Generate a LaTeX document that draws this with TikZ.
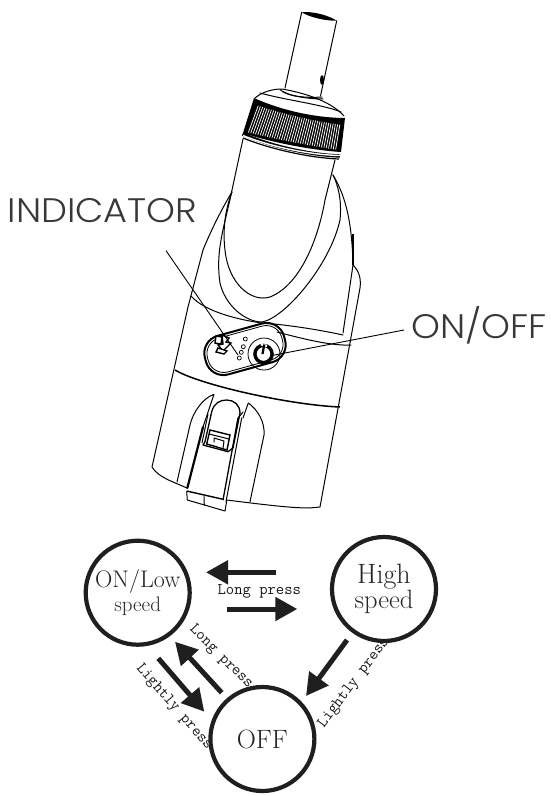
\documentclass[tikz,border=0pt]{standalone}
\usepackage{fontspec}
\newfontfamily\lab[UprightFont=* Light,FakeStretch=1.08]{Poppins}
\usetikzlibrary{arrows.meta}
\tikzset{
  dev/.style={line width=1pt,black,line join=round,line cap=round},
  devthick/.style={line width=2.2pt,black,line cap=round},
  state/.style={circle,draw=black!88,line width=4.2pt,fill=white,minimum size=104pt,inner sep=0pt,align=center,text=black!85},
  blockarrow/.style={draw=black!88,line width=5pt,-{Triangle[length=22pt,width=23pt]}},
  presslabel/.style={font=\ttfamily\fontsize{16.2}{17}\selectfont,text=black!90,inner sep=0pt},
  callout/.style={font=\lab\fontsize{34}{36}\selectfont,text=black!78,inner sep=0pt,anchor=base west},
  leader/.style={line width=0.9pt,black},
  leddot/.style={line width=0.7pt,black}
}
\begin{document}
\begin{tikzpicture}[x=1pt,y=-1pt]
\useasboundingbox (0,0) rectangle (551,796);
% tube
\draw[dev] (301.7,12.3) -- (285,88);
\draw[dev] (336.7,20.7) -- (320.5,96);
\fill[black] (301.7,12.3) .. controls (312,11) and (328,15) .. (336.7,20.7) .. controls (325,21) and (309,17) .. (301.7,12.3);
\fill[black] (322,80) ellipse (2pt and 5pt);
% cap dome
\draw[dev] (255,98) .. controls (262,92) and (272,89) .. (282,89) .. controls (300,92) and (330,100) .. (344,116);
\draw[dev] (280,89.5) .. controls (287,97) and (308,98) .. (322,97);
\draw[dev] (283,91.5) .. controls (290,96) and (308,99) .. (323,99);
\draw[dev] (260,93) .. controls (285,100) and (325,105) .. (341,112);
% knurl
\fill[black] (254,98) .. controls (285,112) and (320,118) .. (345,118) -- (341,152) .. controls (310,150) and (270,142) .. (243,133) -- cycle;
\foreach \i in {1,...,38}{
  \pgfmathsetmacro{\t}{\i/39}
  \pgfmathsetmacro{\bu}{4*\t*(1-\t)}
  \pgfmathsetmacro{\xa}{256+\t*86}
  \pgfmathsetmacro{\ya}{105+\t*20+2*\bu}
  \pgfmathsetmacro{\xb}{246+\t*92}
  \pgfmathsetmacro{\yb}{132+\t*18+1*\bu}
  \draw[white,line width=0.75pt] (\xa,\ya) -- (\xb,\yb);
}
% cap rings
\draw[line width=3.4pt,black] (242.5,134) .. controls (270,146) and (310,155) .. (340,156);
\draw[white,line width=1.4pt] (243,135.5) .. controls (270,146.5) and (310,155) .. (340,155.5);
\draw[line width=1.2pt,black] (243,138) .. controls (270,149) and (310,158) .. (339,159);
% body
\draw[dev] (243,139) -- (232,190) .. controls (225,225) and (215,250) .. (220,283) .. controls (225,305) and (245,322) .. (262,322) .. controls (285,318) and (330,265) .. (340,220) .. controls (342,200) and (338,185) .. (333,175);
\draw[dev] (335,160) -- (325,200) .. controls (318,240) and (300,285) .. (270,297) .. controls (250,303) and (228,282) .. (225,250) .. controls (222,225) and (227,205) .. (232,192);
\draw[dev] (232,192) .. controls (218,215) and (207,240) .. (203,250) -- (188,307) -- (152,467) .. controls (155,472) and (160,476) .. (170,480.7) -- (187,488);
\draw[dev] (333,175) .. controls (345,195) and (352,220) .. (353,265) -- (343,333);
\draw[line width=2pt,black] (353,234) -- (353,265);
\draw[dev] (353,265) .. controls (360,272) and (361,280) .. (360,288) -- (320,507) .. controls (305,509) and (290,508) .. (226.7,500);
% bands
\draw[dev] (191,296) .. controls (205,312) and (240,320) .. (262,323) .. controls (290,325) and (320,330) .. (343,335);
\draw[dev] (277,332) .. controls (300,338) and (330,346) .. (351,345);
\draw[line width=1.5pt,black] (175,370) .. controls (200,385) and (290,405) .. (340,407);
% panel
\draw[line width=2pt,black,rounded corners=18pt,rotate around={15.5:(245,349)}] (204,329) rectangle (286,369);
\draw[line width=0.8pt,black,rounded corners=16pt,rotate around={15.5:(245,349)}] (206.5,331.5) rectangle (283.5,366.5);
\draw[line width=0.8pt,black] (264,354) circle (16pt);
\draw[line width=3.4pt,black] (263.5,354) circle (8.6pt);
\draw[white,line width=2.4pt] (261,344.3) -- (267,346);
\draw[line width=2.2pt,black] (264.3,344.5) -- (262.5,354);
\draw[leddot] (245.3,339) circle (2pt);
\draw[leddot] (243.3,346.7) circle (2pt);
\draw[leddot] (241.3,352.3) circle (2pt);
\draw[leddot] (239.3,358) circle (2pt);
% icon
\draw[line width=1.4pt,black,fill=white] (216,336) -- (222,337) -- (221,344) -- (215,343) -- cycle;
\draw[line width=1.4pt,black,fill=white] (222,335) -- (229,338) -- (226,342) -- (231,343) -- (223,351) -- (218,345) -- (223,344) -- cycle;
\draw[line width=1.4pt,black,fill=white] (218,348) -- (227,351) -- (224,354) -- (216,352) -- cycle;
% clip arches
\draw[dev] (177,482) -- (190,425) .. controls (193,412) and (203,398) .. (214,394.3) -- (203,427);
\draw[dev] (243,418) -- (248.3,403) .. controls (258,410) and (265,422) .. (264,435) -- (250,501.7);
\draw[devthick] (203,427) -- (187.3,488);
% clip body
\draw[line width=1.3pt,black,line join=round] (205,441.7) -- (211.7,411.7) .. controls (214,403) and (220,400) .. (226.7,400) .. controls (234,400) and (240,405) .. (240,413) -- (233,448) -- (228,451.7) -- (203,445) -- cycle;
\draw[dev] (208,414) -- (202,443);
% long strip
\draw[line width=1.3pt,black] (238,418) -- (223,500);
\draw[dev] (241.7,418) -- (226,501.7);
\draw[dev] (238,418) -- (243,412);
% clip tab
\draw[dev] (186.7,491.7) -- (187.3,500) -- (225,511) -- (226.7,501);
\draw[dev] (204,496.7) -- (204.3,505);
\draw[line width=1.4pt,black] (186.7,491) -- (224,499.5);
% latch square
\draw[line width=1.4pt,black] (210,430) -- (230,435) -- (227,450) -- (206.7,444) -- cycle;
\draw[dev] (209,434) -- (229,439);
\draw[dev] (214,442) -- (214,438) -- (224,441) -- (223,448);
% callouts and leaders
\node[callout] (ind) at (7.5,222) {INDICATOR};
\node[callout] (onoff) at (411,338) {ON/OFF};
\coordinate (indA) at (166,250.7);
\coordinate (indB) at (238,355);
\coordinate (onA) at (404,330);
\coordinate (onB) at (272,355.5);
\draw[leader] (indA) -- (indB);
\draw[leader] (onA) -- (onB);
% state labels, partly covered by the circles
\node[presslabel] (l1) at (259.3,591) {Long press};
\node[presslabel,rotate=-45] (l2) at (221,657) {Long press};
\node[presslabel,rotate=-49] (l3) at (174,707) {Lightly press};
\node[presslabel,rotate=53] (l4) at (354,683) {Lightly press};
% states
\node[state] (low) at (137.7,592.7) {\raisebox{-3pt}{\fontsize{24}{27}\selectfont ON/Low}\\[2pt]\raisebox{-4pt}{\fontsize{21}{24}\selectfont speed}};
\node[state] (high) at (384,589) {\raisebox{4pt}{\fontsize{28}{34}\selectfont High}\\\raisebox{-3pt}{\fontsize{26.5}{32}\selectfont speed}};
\node[state] (off) at (262.4,739) {\raisebox{-3pt}{\fontsize{26.5}{30}\selectfont OFF}};
% arrows
\coordinate (a1s) at (276,572.3); \coordinate (a1e) at (206,572.3);
\coordinate (a2s) at (226.7,609); \coordinate (a2e) at (297.3,609);
\coordinate (a3s) at (221.7,692.7); \coordinate (a3e) at (175,641.7);
\coordinate (a4s) at (158.3,658.3); \coordinate (a4e) at (204.3,711.7);
\coordinate (a5s) at (347,640); \coordinate (a5e) at (306,696);
\draw[blockarrow] (a1s) -- (a1e);
\draw[blockarrow] (a2s) -- (a2e);
\draw[blockarrow] (a3s) -- (a3e);
\draw[blockarrow] (a4s) -- (a4e);
\draw[blockarrow] (a5s) -- (a5e);
\end{tikzpicture}
\end{document}
